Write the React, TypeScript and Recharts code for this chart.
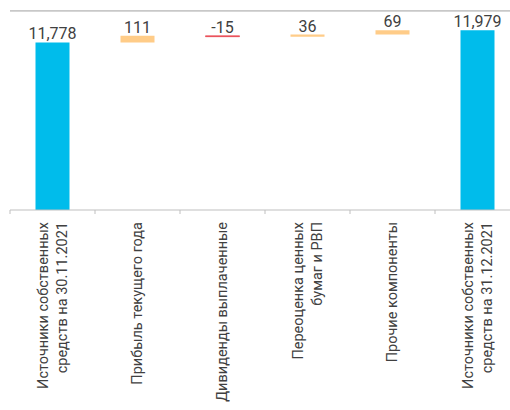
import { BarChart, Bar, XAxis, YAxis, Cell, LabelList, ReferenceLine } from "recharts";

const categories = [
  "Источники собственных\nсредств на 30.11.2021",
  "Прибыль текущего года",
  "Дивиденды выплаченные",
  "Переоценка ценных\nбумаг и РВП",
  "Прочие компоненты",
  "Источники собственных\nсредств на 31.12.2021",
];
const values = [11778, 111, -15, 36, 69, 11979];
const isTotal = [true, false, false, false, false, true];

const BLUE = "#00BCEB";
const ORANGE = "#FFCC88";
const RED = "#E8404A";
const FONT = "Roboto, 'Liberation Sans', sans-serif";

// build waterfall rows: invisible base + visible step
let running = 0;
const rows = categories.map((name, i) => {
  const v = values[i];
  let base = 0;
  let step = v;
  if (isTotal[i]) {
    running = v;
  } else {
    base = v >= 0 ? running : running + v;
    step = Math.abs(v);
    running += v;
  }
  return { name, base, step, value: v, total: isTotal[i] };
});

const fill = (r: any) => (r.total ? BLUE : r.value < 0 ? RED : ORANGE);

const CategoryTick = (props: any) => {
  const { x, y, payload } = props;
  const lines = String(payload.value).split("\n");
  const half = 42.5;
  const y0 = y - 8;
  return (
    <g>
      <line x1={x - half} y1={y0} x2={x - half} y2={y0 + 4} stroke="#bfbfbf" />
      <g transform={`translate(${x},${y0 + 12})`}>
        <text
          transform="rotate(-90)"
          textAnchor="end"
          fill="#404040"
          fontSize={14.5}
          fontFamily={FONT}
        >
          {lines.map((l, i) => (
            <tspan
              key={i}
              x={0}
              y={(i - (lines.length - 1) / 2) * 19}
              dominantBaseline="central"
            >
              {l}
            </tspan>
          ))}
        </text>
      </g>
    </g>
  );
};

const ValueLabel = (props: any) => {
  const { x, y, width, value } = props;
  return (
    <text
      x={x + width / 2}
      y={y - 3}
      textAnchor="middle"
      fill="#404040"
      fontSize={16}
      fontFamily={FONT}
    >
      {Number(value).toLocaleString("en-US")}
    </text>
  );
};

export default function App() {
  return (
    <div
      style={{
        position: "absolute",
        left: 0,
        top: 0,
        width: 510,
        height: 410,
        overflow: "hidden",
        background: "#fff",
      }}
    >
      <BarChart
        width={520}
        height={410}
        data={rows}
        margin={{ top: 11, right: 0, bottom: 0, left: 10 }}
        barCategoryGap="30%"
      >
        <XAxis
          dataKey="name"
          interval={0}
          height={200}
          tickLine={false}
          axisLine={{ stroke: "#bfbfbf" }}
          tick={<CategoryTick />}
        />
        <YAxis
          width={0}
          domain={[9000, 12300]}
          allowDataOverflow
          tick={false}
          tickLine={false}
          axisLine={{ stroke: "#d0d0d0" }}
        />
        <ReferenceLine y={12300} stroke="#c8c8c8" strokeWidth={1.5} ifOverflow="visible" />
        <Bar dataKey="base" stackId="w" fill="transparent" isAnimationActive={false} />
        <Bar dataKey="step" stackId="w" isAnimationActive={false}>
          {rows.map((r, i) => (
            <Cell key={i} fill={fill(r)} stroke={r.value < 0 ? RED : "none"} strokeWidth={0.6} />
          ))}
          <LabelList dataKey="value" content={<ValueLabel />} />
        </Bar>
      </BarChart>
      {/* top edge of the plot frame */}
      <div
        style={{
          position: "absolute",
          left: 10,
          top: 10,
          width: 500,
          height: 1,
          background: "#c8c8c8",
          zIndex: 2,
        }}
      />
    </div>
  );
}
